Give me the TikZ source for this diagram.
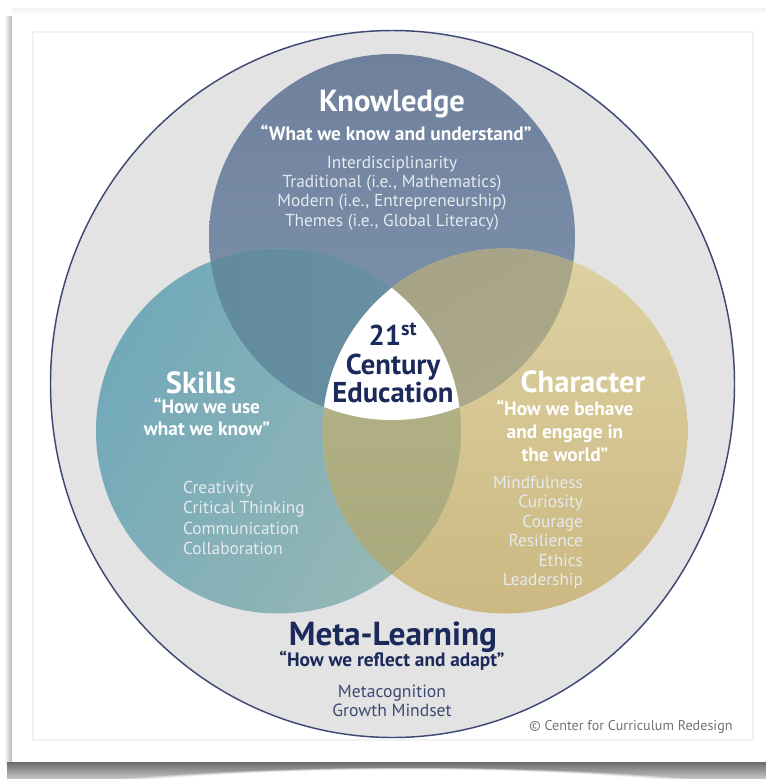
\documentclass[tikz,border=0pt]{standalone}
\usepackage{fontspec}
\setmainfont{PT Sans}
\definecolor{navy}{HTML}{1B2A5A}
\definecolor{soft}{HTML}{E4EAEE}
\definecolor{kTop}{HTML}{6E809C}\definecolor{kBot}{HTML}{8296AF}
\definecolor{sA}{HTML}{72A9B9}\definecolor{sB}{HTML}{97B8B6}
\definecolor{cTop}{HTML}{DDD2A2}\definecolor{cBot}{HTML}{CCB882}
\definecolor{ksA}{HTML}{5C8A9A}\definecolor{ksB}{HTML}{6C90A5}
\definecolor{kcA}{HTML}{A6A387}\definecolor{kcB}{HTML}{B4AF8C}
\definecolor{scA}{HTML}{B8B68B}\definecolor{scB}{HTML}{A7A87B}
\tikzset{
  lbl/.style={inner sep=0pt,outer sep=0pt,align=center},
  head/.style={lbl,text=white,font=\fontsize{22.9pt}{26pt}\selectfont\bfseries},
  quo/.style={lbl,text=white,font=\fontsize{14.5pt}{17pt}\selectfont\bfseries},
  items/.style={lbl,text=soft,font=\fontsize{13pt}{14.6pt}\selectfont},
  ctr/.style={lbl,text=navy,font=\fontsize{21.5pt}{21.6pt}\selectfont\bfseries},
}
\newcommand{\kcirc}{(392,237) circle [radius=183]}
\newcommand{\scirc}{(278.5,431) circle [radius=182.5]}
\newcommand{\ccirc}{(505,431) circle [radius=182.5]}
\begin{document}
\begin{tikzpicture}[x=0.75pt,y=-0.75pt]
\useasboundingbox (0,0) rectangle (766,779);
\fill[white] (0,0) rectangle (766,779);
% card shadows
\shade[left color=white,right color=black!28] (4,16) rectangle (12,764);
\shade[top color=black!5,bottom color=white] (12,8) rectangle (766,14);
\shade[top color=black!58,bottom color=black!22] (7,762) rectangle (766,779);
\foreach \o/\d in {0.25/0,0.25/1,0.3/2,0.4/3,0.6/4,1/5}{
  \fill[white,opacity=\o] (120+\d*8,779) .. controls (300+\d*3,764+\d/2) and (520-\d*3,764+\d/2) .. (690-\d*8,779) -- cycle;
}
\fill[white] (12,14) rectangle (766,762);
\draw[black!5,line width=1.1pt] (33,32) rectangle (753,740);
% outer circle
\path[fill=black!11,draw=navy!85,line width=1.1pt] (392.5,384) ellipse [x radius=342,y radius=353.5];
% three circles
\shade[top color=kTop,bottom color=kBot] \kcirc;
\shade[left color=sA,right color=sB,shading angle=60] \scirc;
\shade[top color=cTop,bottom color=cBot] \ccirc;
% overlaps
\begin{scope}\clip \kcirc;
  \shade[left color=ksA,right color=ksB] \scirc;
  \shade[left color=kcA,right color=kcB,shading angle=30] \ccirc;
\end{scope}
\begin{scope}\clip \scirc;
  \shade[top color=scA,bottom color=scB] \ccirc;
\end{scope}
\begin{scope}\clip \kcirc;\clip \scirc;
  \fill[white] \ccirc;
\end{scope}
% texts
\node[head] (kh) at (392,104) {Knowledge};
\node[quo] (kq) at (396,133) {“What we know and understand”};
\node[items] (kl) at (392,193) {Interdisciplinarity\\Traditional (i.e., Mathematics)\\Modern (i.e., Entrepreneurship)\\Themes (i.e., Global Literacy)};
\node[head] (sh) at (201,383) {Skills};
\node[quo,font=\fontsize{14.5pt}{16.5pt}\selectfont\bfseries] (sq) at (207,417) {“How we use\\what we know”};
\node[items,align=left,anchor=west,font=\fontsize{13pt}{15.4pt}\selectfont] (sl) at (183,518) {Creativity\\Critical Thinking\\Communication\\Collaboration};
\node[head] (ch) at (583,382) {Character};
\node[quo,font=\fontsize{14.5pt}{17.2pt}\selectfont\bfseries] (cq) at (565,431) {“How we behave\\and engage in\\the world”};
\node[items,align=right,anchor=east] (cl) at (583,532.5) {Mindfulness\\Curiosity\\Courage\\Resilience\\Ethics\\Leadership};
\node[ctr] (cn) at (393,363) {21\textsuperscript{st}\\Century\\Education};
\node[lbl,text=navy,font=\fontsize{25pt}{27pt}\selectfont\bfseries] (mh) at (393,637) {Meta-Learning};
\node[lbl,text=navy,font=\fontsize{14.5pt}{17pt}\selectfont\bfseries] (mq) at (392,661) {“How we reflect and adapt”};
\node[lbl,text=navy!85,font=\fontsize{13.2pt}{14.4pt}\selectfont] (ml) at (392,700.5) {Metacognition\\Growth Mindset};
\node[lbl,text=black!55,font=\fontsize{10.6pt}{12pt}\selectfont] (cp) at (631,727) {© Center for Curriculum Redesign};
\end{tikzpicture}
\end{document}
